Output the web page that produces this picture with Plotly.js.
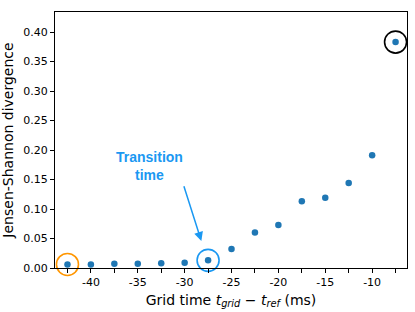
<!DOCTYPE html>
<html>
<head>
<meta charset="utf-8">
<script src="https://cdn.plot.ly/plotly-3.0.1.min.js"></script>
<style>html,body{margin:0;padding:0;background:#fff;}#chart{width:415px;height:312px;}</style>
</head>
<body>
<div id="chart"></div>
<script>
const gridTime = [-42.5, -40, -37.5, -35, -32.5, -30, -27.5, -25, -22.5, -20, -17.5, -15, -12.5, -10, -7.5];
const jsDiv = [0.006, 0.006, 0.007, 0.007, 0.008, 0.009, 0.013, 0.032, 0.060, 0.073, 0.113, 0.119, 0.144, 0.191, 0.383];
const xTickVals = [-40, -35, -30, -25, -20, -15, -10];
const xTickText = ['-40', '-35', '-30', '-25', '-20', '-15', '-10'];
const xMinorVals = [-42.5, -37.5, -32.5, -27.5, -22.5, -17.5, -12.5, -7.5];
const yTickVals = [0, 0.05, 0.1, 0.15, 0.2, 0.25, 0.3, 0.35, 0.4];
const yTickText = ['0.00', '0.05', '0.10', '0.15', '0.20', '0.25', '0.30', '0.35', '0.40'];
const circleX = [-42.5, -27.5, -7.5];
const circleY = [0.006, 0.013, 0.383];
const circleColors = ['#ff9600', '#1a98f2', '#000000'];

const font = 'DejaVu Sans, sans-serif';
const traces = [
  {
    x: gridTime, y: jsDiv, type: 'scatter', mode: 'markers',
    marker: {color: '#1f77b4', size: 6.5},
    cliponaxis: false, hoverinfo: 'skip'
  }
];
circleX.forEach((cx, i) => {
  traces.push({
    x: [cx], y: [circleY[i]], type: 'scatter', mode: 'markers',
    marker: {symbol: 'circle-open', size: 22, color: circleColors[i], line: {color: circleColors[i], width: 1.6}},
    cliponaxis: false, hoverinfo: 'skip'
  });
});

const layout = {
  width: 415, height: 312,
  margin: {l: 55, r: 8, t: 12, b: 44},
  showlegend: false,
  paper_bgcolor: '#fff', plot_bgcolor: '#fff',
  font: {family: font, size: 11, color: '#000'},
  xaxis: {
    range: [-43.83, -6.28],
    tickmode: 'array', tickvals: xTickVals, ticktext: xTickText,
    ticks: 'outside', ticklen: 4, tickwidth: 1, tickcolor: '#000',
    minor: {tickmode: 'array', tickvals: xMinorVals, ticks: 'outside', ticklen: 4, tickwidth: 1, tickcolor: '#000', showgrid: false},
    showgrid: false, zeroline: false,
    showline: true, linecolor: '#000', linewidth: 1, mirror: true,
    tickfont: {family: font, size: 11},
    title: {text: 'Grid time <i>t</i><sub><i>grid</i></sub> − <i>t</i><sub><i>ref</i></sub> (ms)', font: {family: font, size: 14}, standoff: 6}
  },
  yaxis: {
    range: [0, 0.434],
    tickmode: 'array', tickvals: yTickVals, ticktext: yTickText,
    ticks: 'outside', ticklen: 4, tickwidth: 1, tickcolor: '#000',
    showgrid: false, zeroline: false,
    showline: true, linecolor: '#000', linewidth: 1, mirror: true,
    tickfont: {family: font, size: 11},
    title: {text: 'Jensen-Shannon divergence', font: {family: font, size: 14}, standoff: 6}
  },
  annotations: [
    {
      x: -33.7, y: 0.173, xref: 'x', yref: 'y', showarrow: false,
      text: '<b>Transition<br>time</b>', align: 'center',
      font: {family: 'Liberation Sans, Arial, sans-serif', size: 14, color: '#1a98f2'}
    },
    {
      x: -28.22, y: 0.0458, ax: -30.35, ay: 0.152, axref: 'x', ayref: 'y',
      xref: 'x', yref: 'y', text: ' ', showarrow: true,
      arrowhead: 2, arrowsize: 1.2, arrowwidth: 1.5, arrowcolor: '#1a98f2'
    }
  ]
};

Plotly.newPlot('chart', traces, layout, {staticPlot: true, displayModeBar: false});
</script>
</body>
</html>
